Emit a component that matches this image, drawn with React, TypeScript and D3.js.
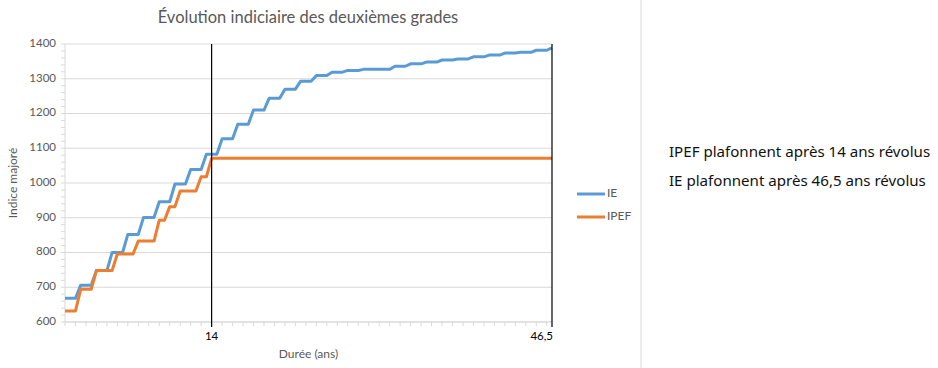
import { line, range, scaleLinear } from "d3";
import { useMemo } from "react";

// durée en années, un point tous les six mois
const durations = [
  0, 0.5, 1, 1.5, 2, 2.5, 3, 3.5, 4, 4.5, 5, 5.5, 6, 6.5, 7, 7.5, 8, 8.5, 9, 9.5,
  10, 10.5, 11, 11.5, 12, 12.5, 13, 13.5, 14, 14.5, 15, 15.5, 16, 16.5, 17, 17.5,
  18, 18.5, 19, 19.5, 20, 20.5, 21, 21.5, 22, 22.5, 23, 23.5, 24, 24.5, 25, 25.5,
  26, 26.5, 27, 27.5, 28, 28.5, 29, 29.5, 30, 30.5, 31, 31.5, 32, 32.5, 33, 33.5,
  34, 34.5, 35, 35.5, 36, 36.5, 37, 37.5, 38, 38.5, 39, 39.5, 40, 40.5, 41, 41.5,
  42, 42.5, 43, 43.5, 44, 44.5, 45, 45.5, 46, 46.5
];

const ieValues = [
  668, 668, 668, 706, 706, 706, 748, 748, 748, 800, 800, 800,
  852, 852, 852, 901, 901, 901, 946, 946, 946, 997, 997, 997,
  1039, 1039, 1039, 1083, 1083, 1083, 1127, 1127, 1127, 1169, 1169, 1169,
  1210, 1210, 1210, 1244, 1244, 1244, 1270, 1270, 1270, 1293, 1293, 1293,
  1309, 1309, 1309, 1319, 1319, 1319, 1324, 1324, 1324, 1327, 1327, 1327,
  1327, 1327, 1327, 1336, 1336, 1336, 1343, 1343, 1343, 1348, 1348, 1348,
  1354, 1354, 1354, 1357, 1357, 1357, 1363, 1363, 1363, 1368, 1368, 1368,
  1374, 1374, 1374, 1376, 1376, 1376, 1382, 1382, 1382, 1389
];

const ipefValues = [
  632, 632, 632, 694, 694, 694, 748, 748, 748, 748, 796, 796, 796, 796,
  833, 833, 833, 833, 893, 893, 932, 932, 977, 977, 977, 977, 1018, 1018,
  1071, 1071, 1071, 1071, 1071, 1071, 1071, 1071, 1071, 1071, 1071,
  1071, 1071, 1071, 1071, 1071, 1071, 1071, 1071, 1071, 1071, 1071,
  1071, 1071, 1071, 1071, 1071, 1071, 1071, 1071, 1071, 1071, 1071,
  1071, 1071, 1071, 1071, 1071, 1071, 1071, 1071, 1071, 1071, 1071,
  1071, 1071, 1071, 1071, 1071, 1071, 1071, 1071, 1071, 1071, 1071,
  1071, 1071, 1071, 1071, 1071, 1071, 1071, 1071, 1071, 1071, 1071
];

const yTicks = [600, 700, 800, 900, 1000, 1100, 1200, 1300, 1400];
const xMarks = [
  { value: 14, label: "14" },
  { value: 46.5, label: "46,5" }
];
const seriesNames = ["IE", "IPEF"];
const notes = [
  "IPEF plafonnent après 14 ans révolus",
  "IE plafonnent après 46,5 ans révolus"
];

const width = 938;
const height = 368;
const plotLeft = 65;
const plotRight = 552;
const plotTop = 44;
const plotBottom = 322;
const chartFont = "Lato, 'Open Sans', sans-serif";
const textGrey = "#595959";
const gridGrey = "#d9d9d9";
const colors = ["#5b9bd5", "#ed7d31"];

function App() {
  const xScale = useMemo(
    () => scaleLinear().domain([0, 46.5]).range([plotLeft, plotRight]),
    []
  );
  const yScale = useMemo(
    () => scaleLinear().domain([600, 1400]).range([plotBottom, plotTop]),
    []
  );

  const paths = useMemo(() => {
    const builder = line<number>()
      .x((_, i) => xScale(durations[i]))
      .y((d) => yScale(d));
    return [ieValues, ipefValues].map((values) => builder(values) ?? "");
  }, [xScale, yScale]);

  const yMinor = range(600, 1401, 20);
  const xMinor = range(0, 47, 1);

  return (
    <svg
      width={width}
      height={height}
      style={{ position: "absolute", left: 0, top: 0, background: "#fff" }}
      fontFamily={chartFont}
    >
      <text
        x={308}
        y={23}
        textAnchor="middle"
        fontSize={16.5}
        fill={textGrey}
      >
        Évolution indiciaire des deuxièmes grades
      </text>

      {yTicks.map((t) => (
        <g key={t}>
          <line
            x1={plotLeft}
            x2={plotRight}
            y1={yScale(t)}
            y2={yScale(t)}
            stroke={gridGrey}
            strokeWidth={1}
          />
          <text
            x={56}
            y={yScale(t)}
            textAnchor="end"
            dominantBaseline="middle"
            fontSize={11.5}
            fill={textGrey}
          >
            {t}
          </text>
        </g>
      ))}
      {yMinor.map((t) => (
        <line
          key={t}
          x1={plotLeft - 4}
          x2={plotLeft}
          y1={yScale(t)}
          y2={yScale(t)}
          stroke={gridGrey}
        />
      ))}
      <line
        x1={plotLeft}
        x2={plotLeft}
        y1={plotTop}
        y2={plotBottom}
        stroke={gridGrey}
      />
      <text
        transform={`translate(14, ${(plotTop + plotBottom) / 2}) rotate(-90)`}
        textAnchor="middle"
        dominantBaseline="middle"
        fontSize={12}
        fill={textGrey}
      >
        Indice majoré
      </text>

      <line
        x1={plotLeft}
        x2={plotRight}
        y1={plotBottom}
        y2={plotBottom}
        stroke={gridGrey}
      />
      {xMinor.map((t) => (
        <line
          key={t}
          x1={xScale(t)}
          x2={xScale(t)}
          y1={plotBottom}
          y2={plotBottom + 4}
          stroke={gridGrey}
        />
      ))}

      {paths.map((d, i) => (
        <path
          key={seriesNames[i]}
          d={d}
          fill="none"
          stroke={colors[i]}
          strokeWidth={3}
          strokeLinejoin="round"
        />
      ))}

      {xMarks.map((m, i) => (
        <g key={m.label}>
          <line
            x1={xScale(m.value)}
            x2={xScale(m.value)}
            y1={plotTop}
            y2={plotBottom + 5}
            stroke="#000"
            strokeWidth={1.2}
          />
          <text
            x={i === xMarks.length - 1 ? plotRight + 1 : xScale(m.value)}
            y={337}
            textAnchor={i === xMarks.length - 1 ? "end" : "middle"}
            dominantBaseline="middle"
            fontSize={11.5}
            fill="#000"
          >
            {m.label}
          </text>
        </g>
      ))}
      <text
        x={(plotLeft + plotRight) / 2}
        y={355}
        textAnchor="middle"
        dominantBaseline="middle"
        fontSize={12}
        fill={textGrey}
      >
        Durée (ans)
      </text>

      {seriesNames.map((name, i) => (
        <g key={name} transform={`translate(577, ${194 + i * 23})`}>
          <line x1={0} x2={28} y1={0} y2={0} stroke={colors[i]} strokeWidth={3} />
          <text
            x={30}
            y={0}
            dominantBaseline="middle"
            fontSize={12}
            fill={textGrey}
          >
            {name}
          </text>
        </g>
      ))}

      <line x1={641} x2={641} y1={0} y2={height} stroke={gridGrey} />
      {notes.map((n, i) => (
        <text
          key={n}
          x={669}
          y={153 + i * 28.5}
          dominantBaseline="middle"
          fontFamily="'Noto Sans', sans-serif"
          fontSize={15.1}
          fill="#111"
        >
          {n}
        </text>
      ))}
    </svg>
  );
}

export default App;
